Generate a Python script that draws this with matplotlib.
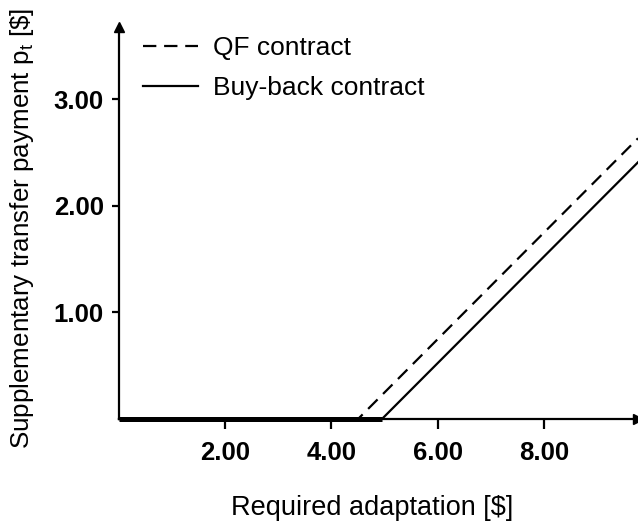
import numpy as np
import matplotlib
matplotlib.use("Agg")
import matplotlib.pyplot as plt

plt.rcParams['font.family'] = ['Liberation Sans', 'DejaVu Sans']
plt.rcParams['mathtext.fontset'] = 'custom'
plt.rcParams['mathtext.rm'] = 'Liberation Sans'

# Required adaptation (x) and supplementary transfer payment (y)
adaptation_qf = [0.0, 4.5, 9.77]
payment_qf = [0.0, 0.0, 2.635]
adaptation_bb = [0.0, 4.95, 9.77]
payment_bb = [0.0, 0.0, 2.41]

x_ticks = [2.0, 4.0, 6.0, 8.0]
x_ticklabels = ["2.00", "4.00", "6.00", "8.00"]
y_ticks = [1.0, 2.0, 3.0]
y_ticklabels = ["1.00", "2.00", "3.00"]

W, H = 638, 524
fig = plt.figure(figsize=(W / 100, H / 100), dpi=100)
ax = fig.add_axes([119 / W, 105 / H, (W - 119) / W, (419 - 27) / H])

ax.set_xlim(0, 9.77)
ax.set_ylim(0, 3.68)

dash = (6, 3.5)
ax.plot(adaptation_qf, payment_qf, color='black', lw=1.6, ls=(0, dash),
        label='QF contract', clip_on=False, zorder=3)
ax.plot(adaptation_bb, payment_bb, color='black', lw=1.6, ls='-',
        label='Buy-back contract', clip_on=False, zorder=3)

# flat stretch where both contracts pay nothing: drawn heavier on the axis
flat_end = max(a for a, p in zip(adaptation_bb, payment_bb) if p == 0)
ax.plot([adaptation_bb[0], flat_end], [0, 0], color='black', lw=3.6,
        solid_capstyle='butt', clip_on=False, zorder=2)

for s in ['top', 'right']:
    ax.spines[s].set_visible(False)
for s in ['left', 'bottom']:
    ax.spines[s].set_linewidth(1.6)

# axis arrowheads
ax.plot(0, 1, marker='^', ms=7, color='black', transform=ax.transAxes,
        clip_on=False, zorder=4)
ax.plot(1, 0, marker='>', ms=7, color='black', transform=ax.transAxes,
        clip_on=False, zorder=4)

ax.set_xticks(x_ticks)
ax.set_xticklabels(x_ticklabels, fontsize=18.5, fontweight='bold')
ax.set_yticks(y_ticks)
ax.set_yticklabels(y_ticklabels, fontsize=18.5, fontweight='bold')
ax.tick_params(axis='x', length=7.5, width=1.6, pad=8)
ax.tick_params(axis='y', length=5, width=1.6, pad=6)

ax.set_xlabel('Required adaptation [$]', fontsize=19.5, labelpad=22)
ax.xaxis.label.set_x(0.4875)
ax.set_ylabel(r'Supplementary transfer payment p$_\mathregular{t}$ [\$]',
              fontsize=18.7, labelpad=13)
ax.yaxis.label.set_y(0.485)

leg = ax.legend(loc='upper left', bbox_to_anchor=(143 / W, 1 - 36 / H),
                bbox_transform=fig.transFigure, frameon=False, fontsize=19,
                handlelength=2.1, handletextpad=0.55, labelspacing=0.62,
                borderaxespad=0, borderpad=0)

fig.savefig('out.png', dpi=100)
